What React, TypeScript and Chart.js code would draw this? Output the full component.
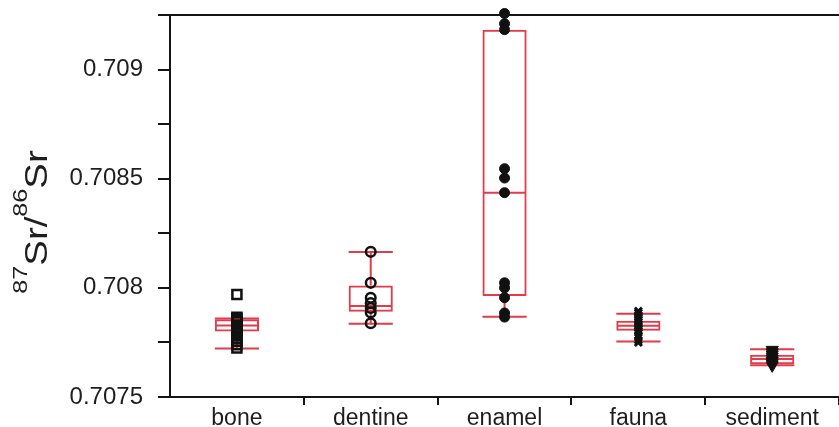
import React, { useEffect, useRef } from 'react';
import { Chart, registerables } from 'chart.js';

Chart.register(...registerables);

const categories = ['bone', 'dentine', 'enamel', 'fauna', 'sediment'];

const whiskerLow = [0.707722, 0.707835, 0.707868, 0.707754, 0.707645];
const quartile1 = [0.7078, 0.707891, 0.707963, 0.707804, 0.70765];
const medians = [0.707827, 0.707917, 0.708436, 0.707826, 0.707674];
const quartile3 = [0.707856, 0.708011, 0.709183, 0.707849, 0.707693];
const whiskerHigh = [0.70786, 0.708164, 0.70926, 0.707881, 0.707719];

const bonePoints = [0.70797, 0.707865, 0.70786, 0.70785, 0.707845, 0.70783, 0.70782, 0.70781, 0.7078, 0.70779, 0.70777, 0.707755, 0.70774, 0.707725];
const dentinePoints = [0.708165, 0.708023, 0.707955, 0.70793, 0.707908, 0.707887, 0.707838];
const enamelPoints = [0.709257, 0.70921, 0.709183, 0.708546, 0.708503, 0.708436, 0.708023, 0.708, 0.707955, 0.707885, 0.707866];
const faunaPoints = [0.707893, 0.707885, 0.707875, 0.707865, 0.707855, 0.707845, 0.707835, 0.707825, 0.707815, 0.707805, 0.707795, 0.70778, 0.70776, 0.70775];
const sedimentPoints = [0.707716, 0.707705, 0.707695, 0.707685, 0.707675, 0.707665, 0.707655, 0.707645];

const yMin = 0.7075;
const yMax = 0.70925;
const yStep = 0.00025;

const RED = '#e23b4a';
const AXIS = '#151515';
const TEXT = '#1e1e1e';
const FONT = "'Liberation Sans', Arial, sans-serif";

const whiskerPlugin = {
  id: 'whiskers',
  beforeDatasetsDraw(chart: any) {
    const { ctx, chartArea, scales } = chart;
    const x = scales.x;
    const y = scales.y;
    const meta = chart.getDatasetMeta(chart.data.datasets.length - 1);
    ctx.save();
    ctx.beginPath();
    ctx.rect(chartArea.left, chartArea.top, chartArea.right - chartArea.left, chartArea.bottom - chartArea.top);
    ctx.clip();
    ctx.strokeStyle = RED;
    ctx.lineWidth = 2;
    categories.forEach((_, i) => {
      const bar: any = meta.data[i];
      const half = bar.width / 2;
      const cx = x.getPixelForValue(i);
      const pLow = y.getPixelForValue(whiskerLow[i]);
      const pQ1 = y.getPixelForValue(quartile1[i]);
      const pMed = y.getPixelForValue(medians[i]);
      const pQ3 = y.getPixelForValue(quartile3[i]);
      const pHigh = y.getPixelForValue(whiskerHigh[i]);
      ctx.beginPath();
      ctx.moveTo(cx, pQ1);
      ctx.lineTo(cx, pLow);
      ctx.moveTo(cx, pQ3);
      ctx.lineTo(cx, pHigh);
      ctx.moveTo(cx - half, pLow);
      ctx.lineTo(cx + half, pLow);
      ctx.moveTo(cx - half, pHigh);
      ctx.lineTo(cx + half, pHigh);
      ctx.moveTo(cx - half + 1, pMed);
      ctx.lineTo(cx + half - 1, pMed);
      ctx.stroke();
    });
    ctx.restore();
  },
};

const framePlugin = {
  id: 'frame',
  afterDraw(chart: any) {
    const { ctx, chartArea } = chart;
    ctx.save();
    ctx.strokeStyle = AXIS;
    ctx.lineWidth = 2;
    ctx.beginPath();
    ctx.moveTo(chartArea.left, chartArea.top);
    ctx.lineTo(chartArea.right, chartArea.top);
    ctx.stroke();

    // y-axis title 87Sr/86Sr
    const big = 32;
    const small = 21;
    const parts = [
      { t: '87', s: small, rise: 20 },
      { t: 'Sr/', s: big, rise: 0 },
      { t: '86', s: small, rise: 20 },
      { t: 'Sr', s: big, rise: 0 },
    ];
    let total = 0;
    parts.forEach((p) => {
      ctx.font = `${p.s}px ${FONT}`;
      total += ctx.measureText(p.t).width;
    });
    ctx.translate(47, 222);
    ctx.rotate(-Math.PI / 2);
    ctx.scale(1.2, 1);
    ctx.fillStyle = TEXT;
    ctx.textBaseline = 'alphabetic';
    ctx.textAlign = 'left';
    let cx = -total / 2;
    parts.forEach((p) => {
      ctx.font = `${p.s}px ${FONT}`;
      ctx.fillText(p.t, cx, -p.rise);
      cx += ctx.measureText(p.t).width;
    });
    ctx.restore();
  },
};

function pointSet(cat: string, values: number[], style: any) {
  return {
    type: 'line' as const,
    data: values.map((v) => ({ x: cat, y: v })),
    showLine: false,
    clip: false as any,
    order: 1,
    pointBorderColor: '#111',
    pointHoverRadius: style.pointRadius,
    ...style,
  };
}

export default function App() {
  const ref = useRef<HTMLCanvasElement | null>(null);
  useEffect(() => {
    if (!ref.current) return;
    const chart = new Chart(ref.current, {
      type: 'bar',
      data: {
        labels: categories,
        datasets: [
          pointSet('bone', bonePoints, { pointStyle: 'rect', pointRadius: 6.4, pointBorderWidth: 2.5, pointBackgroundColor: 'rgba(0,0,0,0)' }),
          pointSet('dentine', dentinePoints, { pointStyle: 'circle', pointRadius: 4.8, pointBorderWidth: 2.5, pointBackgroundColor: 'rgba(0,0,0,0)' }),
          pointSet('enamel', enamelPoints, { pointStyle: 'circle', pointRadius: 5, pointBorderWidth: 1, pointBackgroundColor: '#111' }),
          pointSet('fauna', faunaPoints, { pointStyle: 'crossRot', pointRadius: 5, pointBorderWidth: 3, pointBackgroundColor: '#111' }),
          pointSet('sediment', sedimentPoints, { pointStyle: 'triangle', pointRadius: 7, pointRotation: 180, pointBorderWidth: 1, pointBackgroundColor: '#111' }),
          {
            type: 'bar' as const,
            data: categories.map((_, i) => [quartile1[i], quartile3[i]]) as any,
            backgroundColor: 'rgba(0,0,0,0)',
            borderColor: RED,
            borderWidth: 2,
            borderSkipped: false,
            barPercentage: 0.33,
            categoryPercentage: 1,
            order: 2,
          },
        ] as any,
      },
      options: {
        animation: false,
        responsive: false,
        devicePixelRatio: 1,
        layout: { padding: { top: 15, left: 0, right: 0, bottom: 0 } },
        plugins: { legend: { display: false }, tooltip: { enabled: false } },
        scales: {
          x: {
            type: 'category',
            offset: true,
            grid: {
              offset: true,
              drawOnChartArea: false,
              tickLength: 8,
              lineWidth: 2,
              color: AXIS,
              tickColor: (c: any) => (c.index === 0 ? 'rgba(0,0,0,0)' : AXIS),
            },
            border: { color: AXIS, width: 2 },
            ticks: { font: { family: FONT, size: 23 }, color: TEXT, padding: 0 },
            afterFit: (s: any) => {
              s.height = 30;
              s.paddingLeft = 0;
              s.paddingRight = 0;
            },
          },
          y: {
            type: 'linear',
            min: yMin,
            max: yMax,
            grid: { drawOnChartArea: false, tickLength: 12, lineWidth: 2, color: AXIS },
            border: { color: AXIS, width: 2 },
            ticks: {
              stepSize: yStep,
              autoSkip: false,
              font: { family: FONT, size: 24 },
              color: TEXT,
              padding: 15,
              callback: (value: any) => {
                const k = Math.round(Number(value) * 1e5);
                return k % 50 === 0 ? String(k / 1e5) : '';
              },
            },
            afterFit: (s: any) => {
              s.width = 170;
              s.paddingTop = 0;
              s.paddingBottom = 0;
            },
          },
        },
      } as any,
      plugins: [whiskerPlugin, framePlugin],
    });
    return () => chart.destroy();
  }, []);

  return (
    <div style={{ position: 'fixed', left: 0, top: 0, width: 839, height: 427, overflow: 'hidden', background: '#fff' }}>
      <canvas ref={ref} width={848} height={427} style={{ display: 'block', width: 848, height: 427 }} />
    </div>
  );
}
